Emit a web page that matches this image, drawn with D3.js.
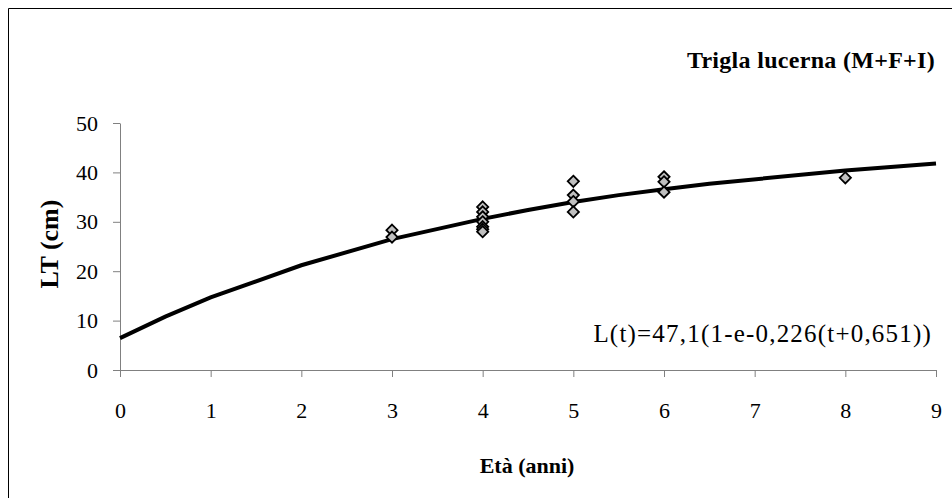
<!DOCTYPE html>
<html>
<head>
<meta charset="utf-8">
<script src="https://cdn.jsdelivr.net/npm/d3@7/dist/d3.min.js"></script>
<style>
html, body { margin: 0; background: #fff; overflow: hidden; }
svg { display: block; }
svg text { font-family: "Liberation Serif", "Times New Roman", "DejaVu Serif", serif; }
</style>
</head>
<body>
<div id="chart"></div>
<script>
// fitted curve
var curveAge = [0, 0.5, 1, 2, 3, 4, 4.5, 5, 5.5, 6, 6.5, 8, 9];
var curveLen = [6.45, 10.8, 14.7, 21.2, 26.5, 30.6, 32.4, 34.0, 35.4, 36.6, 37.7, 40.4, 41.8];

// observed lengths
var obsAge = [3, 3, 4, 4, 4, 4, 4, 4, 4, 5, 5, 5, 5, 6, 6, 6, 8];
var obsLen = [28.3, 26.9, 33, 32, 31, 30, 29, 28.5, 28, 38.2, 35.4, 34.1, 32, 39.1, 38.1, 36, 38.9];

var xTicks = [0, 1, 2, 3, 4, 5, 6, 7, 8, 9];
var yTicks = [0, 10, 20, 30, 40, 50];

var serif = "'Liberation Serif', 'Times New Roman', 'DejaVu Serif', serif";

var W = 952, H = 498;
var margin = {top: 123, right: 16, bottom: 128, left: 120},
    width = W - margin.left - margin.right,
    height = H - margin.top - margin.bottom;

var svg = d3.select("#chart").append("svg")
    .attr("width", W)
    .attr("height", H);

// frame (only top and left edges are inside the picture)
svg.append("path")
    .attr("d", "M8.5," + H + "V8.5H" + W)
    .attr("fill", "none").attr("stroke", "#000").attr("stroke-width", 1);

var g = svg.append("g")
    .attr("transform", "translate(" + margin.left + "," + margin.top + ")");

var x = d3.scaleLinear().domain([0, 9]).range([0, width]);
var y = d3.scaleLinear().domain([0, 50]).range([height, 0]);

var xAxis = g.append("g")
    .attr("transform", "translate(0," + height + ")")
    .call(d3.axisBottom(x).tickValues(xTicks).tickSize(7).tickPadding(25).tickSizeOuter(0));
var yAxis = g.append("g")
    .call(d3.axisLeft(y).tickValues(yTicks).tickSize(7).tickPadding(15).tickSizeOuter(0));

[xAxis, yAxis].forEach(function(a) {
    a.attr("font-family", serif).attr("font-size", 22);
    a.select(".domain").attr("stroke", "#808080");
    a.selectAll(".tick line").attr("stroke", "#808080");
    a.selectAll(".tick text").attr("fill", "#000");
});

// curve
var line = d3.line()
    .x(function(d, i) { return x(curveAge[i]); })
    .y(function(d, i) { return y(curveLen[i]); });
g.append("path")
    .datum(curveLen)
    .attr("d", line)
    .attr("fill", "none")
    .attr("stroke", "#000")
    .attr("stroke-width", 4);

// points
var diamond = d3.symbol().type(d3.symbolDiamond2).size(80);
g.selectAll(".pt")
    .data(obsLen)
    .enter()
    .append("path")
    .attr("class", "pt")
    .attr("d", diamond)
    .attr("transform", function(d, i) { return "translate(" + x(obsAge[i]) + "," + y(d) + ")"; })
    .attr("fill", "#c0c0c0")
    .attr("stroke", "#000")
    .attr("stroke-width", 1.8);

// texts
svg.append("text")
    .attr("x", 935).attr("y", 68)
    .attr("text-anchor", "end")
    .attr("font-family", serif)
    .style("font-size", "24px").style("font-weight", "bold")
    .style("letter-spacing", "0.3px")
    .text("Trigla lucerna (M+F+I)");

svg.append("text")
    .attr("x", 932).attr("y", 342)
    .attr("text-anchor", "end")
    .attr("font-family", serif)
    .style("font-size", "25px")
    .style("letter-spacing", "1.2px")
    .text("L(t)=47,1(1-e-0,226(t+0,651))");

svg.append("text")
    .attr("x", 527).attr("y", 473)
    .attr("text-anchor", "middle")
    .attr("font-family", serif)
    .style("font-size", "22px").style("font-weight", "bold")
    .text("Età (anni)");

svg.append("text")
    .attr("transform", "translate(58,244) rotate(-90)")
    .attr("text-anchor", "middle")
    .attr("font-family", serif)
    .style("font-size", "26px").style("font-weight", "bold")
    .text("LT (cm)");
</script>
</body>
</html>
